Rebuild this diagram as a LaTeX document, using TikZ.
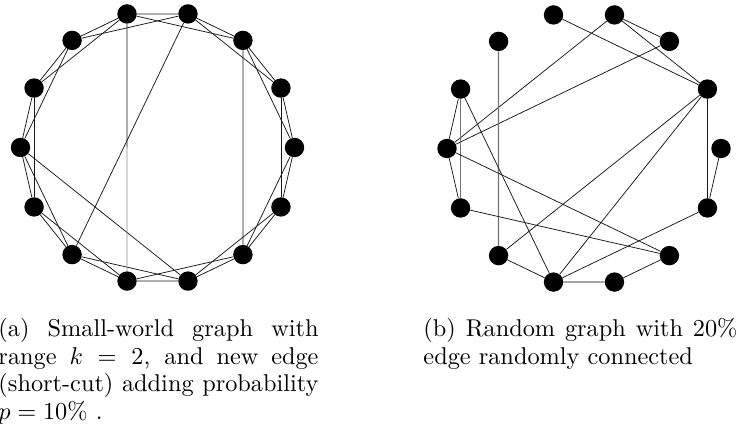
\documentclass[tikz,border=0pt]{standalone}
\begin{document}
\begin{tikzpicture}[x=1pt,y=-1pt,
  vtx/.style={circle,fill=black,inner sep=0pt,minimum size=19.4pt},
  edge/.style={line width=0.75pt,black!90},
  grayedge/.style={line width=1.2pt,black!55},
  captext/.style={scale=2.43,inner sep=0pt,anchor=north west,align=justify,font=\fontsize{10}{11.44}\selectfont}]
\clip (0,0) rectangle (738,430);
% left graph nodes
\foreach \k in {0,...,13}{
  \node[vtx] (a\k) at ({157.5+137*cos(\k*360/14)},{147.5-137*sin(\k*360/14)}) {};
}
% right graph nodes
\foreach \k in {0,...,13}{
  \node[vtx] (b\k) at ({584+137*cos(\k*360/14)},{148.5-137*sin(\k*360/14)}) {};
}
% left: ring lattice k=2
\foreach \k in {0,...,13}{
  \pgfmathtruncatemacro\ka{mod(\k+1,14)}
  \pgfmathtruncatemacro\kb{mod(\k+2,14)}
  \draw[edge] (a\k) -- (a\ka);
  \draw[edge] (a\k) -- (a\kb);
}
% left: short-cuts
\draw[edge] (a2) -- (a12);
\draw[edge] (a3) -- (a9);
\draw[edge] (a7) -- (a11);
\coordinate (amid) at (127,147.5);
\draw[edge] (a4) -- (amid);
\draw[line width=0.9pt,black!45] (amid) -- (a10);
% right graph edges
\draw[edge] (b4) -- (b1);
\draw[edge] (b3) -- (b2);
\draw[edge] (b3) -- (b1);
\draw[edge] (b3) -- (b7);
\draw[edge] (b2) -- (b7);
\draw[grayedge] (b5) -- (b9);
\draw[edge] (b6) -- (b7);
\draw[grayedge] (b6) -- (b8);
\draw[edge] (b6) -- (b10);
\draw[edge] (b7) -- (b8);
\draw[edge] (b7) -- (b12);
\draw[edge] (b8) -- (b12);
\draw[edge] (b9) -- (b1);
\draw[edge] (b9) -- (b10);
\draw[edge] (b10) -- (b1);
\draw[edge] (b10) -- (b13);
\draw[grayedge] (b10) -- (b11);
\draw[edge] (b11) -- (b12);
\draw[edge] (b1) -- (b13);
\draw[edge] (b0) -- (b13);
% captions
\node[captext,text width=131.7pt] (capa) at (-2,317.5) {(a) Small-world graph with\linebreak range $k = 2$, and new edge\linebreak (short-cut) adding probability\linebreak $p = 10\%$ .};
\node[captext,text width=129.2pt] (capb) at (423,317.5) {(b) Random graph with 20\%\linebreak edge randomly connected};
\end{tikzpicture}
\end{document}
